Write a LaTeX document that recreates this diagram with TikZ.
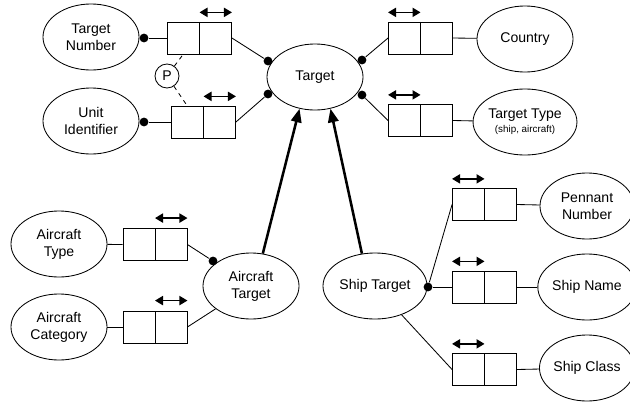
\documentclass[tikz,border=0pt]{standalone}
\usepackage{fontspec}
\setmainfont{Liberation Sans}
\usetikzlibrary{arrows.meta,shapes.geometric}
\begin{document}
\begin{tikzpicture}[x=0.025cm,y=-0.025cm,line width=0.6pt,
    entity/.style={draw,ellipse,inner sep=0pt,minimum width=2.4cm,minimum height=1.65cm,align=center},
    keybox/.style={draw,rectangle,inner sep=0pt,minimum width=1.6cm,minimum height=0.8cm,
      path picture={\draw (path picture bounding box.north) -- (path picture bounding box.south);}},
    dot/.style={circle,fill,inner sep=0pt,minimum size=2.2mm},
    keyarrow/.style={line width=1pt,{Triangle[length=2mm,width=2.3mm]}-{Triangle[length=2mm,width=2.3mm]}},
    isa/.style={line width=1.8pt,-{Triangle[length=3.4mm,width=2.6mm]}}]
        \useasboundingbox (0,0) rectangle (630,402);
        \node[entity] at ( 91, 37)  (tnum) {Target\\Number};
        \node[entity] at ( 91,121)  (unit) {Unit\\Identifier};
        \node[entity] at (315, 77)  (target) {Target};
        \node[entity] at (525, 39)  (country) {Country};
        \node[entity] at (525,122)  (ttype) {Target Type\\[-2pt]{\scriptsize (ship, aircraft)}};
        \node[entity] at ( 59,244)  (actype) {Aircraft\\Type};
        \node[entity] at ( 59,327)  (accat) {Aircraft\\Category};
        \node[entity] at (251,286)  (aircraft) {Aircraft\\Target};
        \node[entity,minimum width=2.6cm] at (375,286)  (ship) {Ship Target};
        \node[entity,minimum width=2.35cm] at (587,206)  (pennant) {Pennant\\Number};
        \node[entity,minimum width=2.35cm] at (587,287)  (sname) {Ship Name};
        \node[entity,minimum width=2.35cm] at (587,368)  (sclass) {Ship Class};
        \node[keybox] at (199.5, 38)  (k1) {};
        \node[keybox] at (203.5,122)  (k2) {};
        \node[keybox] at (420.5, 38)  (k3) {};
        \node[keybox] at (420.5,120.5)  (k4) {};
        \node[keybox] at (155,244.5)  (k5) {};
        \node[keybox] at (155,327)  (k6) {};
        \node[keybox] at (484.5,204.5)  (k7) {};
        \node[keybox] at (484.5,287)  (k8) {};
        \node[keybox] at (484.5,369.5)  (k9) {};
        \node[draw,circle,inner sep=0pt,minimum size=0.6cm] at (167,76) (p) {P};
        \node[dot] at (144, 38) (d1) {};
        \node[dot] at (144,122) (d2) {};
        \node[dot] at (268, 61) (t1) {};
        \node[dot] at (268, 94) (t2) {};
        \node[dot] at (362, 60) (t3) {};
        \node[dot] at (362, 95) (t4) {};
        \node[dot] at (213,261) (a1) {};
        \node[dot] at (428,287) (s1) {};
        \draw (d1) -- (k1.west);
        \draw (d2) -- (k2.west);
        \draw (k1.east) -- (t1);
        \draw (k2.east) -- (t2);
        \draw (t3) -- (k3.west);
        \draw (t4) -- (k4.west);
        \draw (k3.east) -- (country);
        \draw (k4.east) -- (ttype);
        \draw (actype) -- (k5.west);
        \draw (accat) -- (k6.west);
        \draw (k5.east) -- (a1);
        \draw (k6.east) -- (aircraft);
        \draw (s1) -- (k7.west);
        \draw (s1) -- (k8.west);
        \draw (ship) -- (k9.west);
        \draw (k7.east) -- (pennant);
        \draw (k8.east) -- (sname);
        \draw (k9.east) -- (sclass);
        \draw[dashed] (p) -- ([xshift=4mm]k1.south west);
        \draw[dashed] (p) -- ([xshift=4mm]k2.north west);
        \draw[isa] (aircraft.70) -- (target.244);
        \draw[isa] (ship.112) -- (target.296);
        \draw[keyarrow] ([yshift=2.3mm]k1.north) -- ([yshift=2.3mm]k1.north east);
        \draw[keyarrow] ([yshift=2.3mm]k2.north) -- ([yshift=2.3mm]k2.north east);
        \draw[keyarrow] ([yshift=2.3mm]k3.north west) -- ([yshift=2.3mm]k3.north);
        \draw[keyarrow] ([yshift=2.3mm]k4.north west) -- ([yshift=2.3mm]k4.north);
        \draw[keyarrow] ([yshift=2.5mm]k5.north) -- ([yshift=2.5mm]k5.north east);
        \draw[keyarrow] ([yshift=2.5mm]k6.north) -- ([yshift=2.5mm]k6.north east);
        \draw[keyarrow] ([yshift=2.3mm]k7.north west) -- ([yshift=2.3mm]k7.north);
        \draw[keyarrow] ([yshift=2.3mm]k8.north west) -- ([yshift=2.3mm]k8.north);
        \draw[keyarrow] ([yshift=2.3mm]k9.north west) -- ([yshift=2.3mm]k9.north);
      \end{tikzpicture}
\end{document}
